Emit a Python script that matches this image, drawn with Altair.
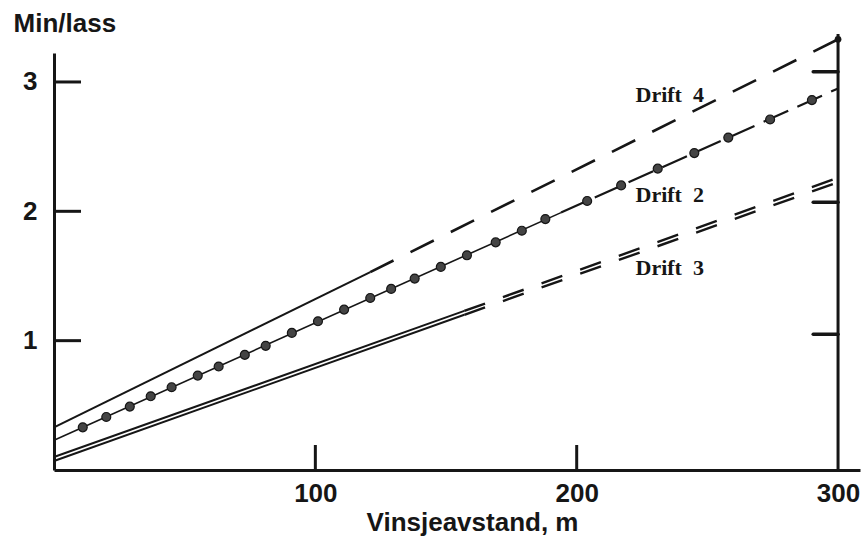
import altair as alt
import pandas as pd

# ---- data ----
# line series: breakpoints (solid part ends at the middle point, dashed after)
drift4_x = [0, 121, 300]
drift4_y = [0.33, 1.53, 3.33]
drift2_x = [0, 194, 300]
drift2_y = [0.23, 1.99, 2.95]
drift3_x = [0, 157, 300]
drift3_y = [0.10, 1.23, 2.26]
drift1_x = [0, 157, 300]
drift1_y = [0.07, 1.20, 2.225]

# markers on Drift 2
drift2_dot_x = [11, 20, 29, 37, 45, 55, 63, 73, 81, 91, 101, 111, 121, 129,
                138, 148, 158, 169, 179, 188, 204, 217, 231, 245, 258, 274, 290]
drift2_dot_y = [0.33, 0.41, 0.49, 0.57, 0.64, 0.73, 0.80, 0.89, 0.96, 1.06,
                1.15, 1.24, 1.33, 1.40, 1.48, 1.57, 1.66, 1.76, 1.85, 1.94,
                2.08, 2.20, 2.33, 2.45, 2.57, 2.71, 2.86]

# labels
label_text = ["Drift\u00a0\u00a04", "Drift\u00a0\u00a02", "Drift\u00a0\u00a03"]
label_x = [222.5, 222.5, 222.5]
label_y = [2.90, 2.13, 1.56]

x_ticks = [100, 200, 300]
y_ticks = [1, 2, 3]
right_ticks = [1.05, 2.07, 3.08]

# ---- layout ----
PLOT_W, PLOT_H = 806, 417
X_MAX, Y_MAX = 308.4, 3.224
INK = "#161616"
SANS = "Liberation Sans"
SERIF = "Liberation Serif"

xs = alt.Scale(domain=[0, X_MAX], nice=False, zero=False)
ys = alt.Scale(domain=[0, Y_MAX], nice=False, zero=False)


def seg(xv, yv, i0, i1):
    return pd.DataFrame({"x": xv[i0:i1 + 1], "y": yv[i0:i1 + 1]})


def line(df, width, dash=None):
    kw = dict(color=INK, strokeWidth=width, strokeCap="butt")
    if dash:
        kw["strokeDash"] = dash
    return alt.Chart(df).mark_line(**kw).encode(
        x=alt.X("x:Q", scale=xs), y=alt.Y("y:Q", scale=ys))


xaxis = alt.Axis(values=x_ticks, ticks=False, grid=False, domainWidth=3,
                 domainColor=INK, labelFont=SANS, labelFontSize=26,
                 labelFontWeight="bold", labelColor=INK, labelPadding=10,
                 format="d",
                 title="Vinsjeavstand, m", titleFont=SANS, titleFontSize=26,
                 titleFontWeight="bold", titleColor=INK, titleX=418,
                 titleY=52, titleAlign="center", titleBaseline="middle")
yaxis = alt.Axis(values=y_ticks, ticks=False, grid=False, domainWidth=3,
                 domainColor=INK, labelFont=SANS, labelFontSize=26,
                 labelFontWeight="bold", labelColor=INK, labelPadding=17,
                 format="d",
                 title="Min/lass", titleFont=SANS, titleFontSize=26,
                 titleFontWeight="bold", titleColor=INK, titleAngle=0,
                 titleX=-41, titleY=-30, titleAlign="left",
                 titleBaseline="middle")

base = alt.Chart(pd.DataFrame({"x": [0.0], "y": [0.0]})).mark_point(
    opacity=0).encode(x=alt.X("x:Q", scale=xs, axis=xaxis),
                      y=alt.Y("y:Q", scale=ys, axis=yaxis))

layers = [base]

# Drift 4
layers.append(line(seg(drift4_x, drift4_y, 0, 1), 2))
layers.append(line(seg(drift4_x, drift4_y, 1, 2), 2.6, [26, 19]))
# Drift 2
layers.append(line(seg(drift2_x, drift2_y, 0, 1), 1.6))
layers.append(line(seg(drift2_x, drift2_y, 1, 2), 2.2, [27, 10]))
# Drift 3 and its companion (double line)
for xv, yv in [(drift3_x, drift3_y), (drift1_x, drift1_y)]:
    layers.append(line(seg(xv, yv, 0, 1), 2))
    layers.append(line(seg(xv, yv, 1, 2), 2.4, [22, 19]))

# dots on Drift 2
dots = pd.DataFrame({"x": drift2_dot_x, "y": drift2_dot_y})
layers.append(alt.Chart(dots).mark_point(
    filled=True, shape="circle", size=80, color="#444444",
    stroke=INK, strokeWidth=1.2, opacity=1).encode(
    x=alt.X("x:Q", scale=xs), y=alt.Y("y:Q", scale=ys)))

# end blob of Drift 4
end4 = pd.DataFrame({"x": [drift4_x[-1]], "y": [drift4_y[-1]]})
layers.append(alt.Chart(end4).mark_point(
    filled=True, shape="circle", size=45, color=INK, opacity=1).encode(
    x=alt.X("x:Q", scale=xs), y=alt.Y("y:Q", scale=ys)))

# right-hand vertical axis at 300
layers.append(alt.Chart(pd.DataFrame({"x": [300], "y": [0.0], "y2": [3.37]}))
              .mark_rule(color=INK, strokeWidth=3).encode(
    x=alt.X("x:Q", scale=xs), y=alt.Y("y:Q", scale=ys), y2="y2:Q"))

# inward ticks on left axis
layers.append(alt.Chart(pd.DataFrame({"v": y_ticks})).mark_rule(
    color=INK, strokeWidth=3).encode(
    y=alt.Y("v:Q", scale=ys), x=alt.value(0), x2=alt.value(27)))

# left-pointing ticks on right axis
rt = pd.DataFrame({"v": right_ticks, "a": [300] * 3, "b": [290.5] * 3})
layers.append(alt.Chart(rt).mark_rule(color=INK, strokeWidth=3.5,
                                      strokeCap="round").encode(
    y=alt.Y("v:Q", scale=ys), x=alt.X("a:Q", scale=xs), x2="b:Q"))

# upward ticks on x axis
layers.append(alt.Chart(pd.DataFrame({"v": x_ticks[:2]})).mark_rule(
    color=INK, strokeWidth=3).encode(
    x=alt.X("v:Q", scale=xs), y=alt.value(PLOT_H), y2=alt.value(PLOT_H - 25)))

# series labels
labels = pd.DataFrame({"t": label_text, "x": label_x, "y": label_y})
layers.append(alt.Chart(labels).mark_text(
    align="left", baseline="middle", font=SERIF, fontSize=22,
    fontWeight="bold", color=INK).encode(
    x=alt.X("x:Q", scale=xs), y=alt.Y("y:Q", scale=ys), text="t:N"))

chart = alt.layer(*layers).properties(
    width=PLOT_W, height=PLOT_H,
    autosize=alt.AutoSizeParams(type="none"),
    padding={"left": 54, "top": 53, "right": 6, "bottom": 69},
    background="white",
).configure_view(stroke=None)

chart.save("out.html", embed_options={"renderer": "svg", "actions": False})
